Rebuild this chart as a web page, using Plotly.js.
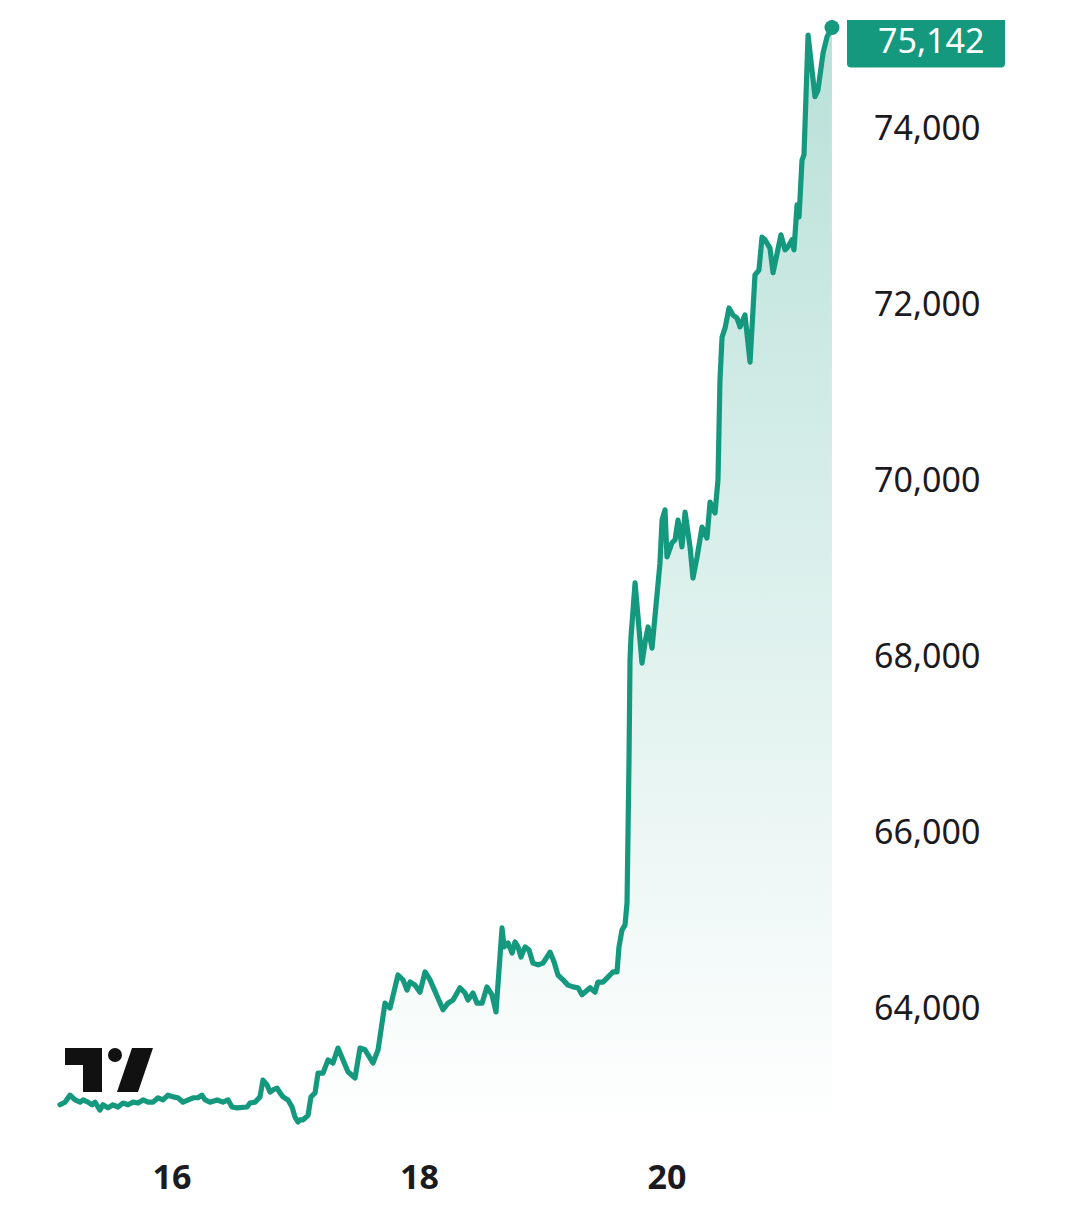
<!DOCTYPE html>
<html>
<head>
<meta charset="utf-8">
<script src="https://cdn.plot.ly/plotly-3.0.1.min.js"></script>
<style>
  html, body { margin: 0; padding: 0; background: #ffffff; }
  #chart { width: 1080px; height: 1225px; }
  .scatterlayer .js-line { stroke-linejoin: round !important; stroke-linecap: round !important; }
</style>
</head>
<body>
<div id="chart"></div>
<script>
// ---- Data (day of month, price) ----
const days = [
  15.095, 15.135, 15.176, 15.216, 15.257, 15.281, 15.321, 15.354, 15.378, 15.418,
  15.442, 15.483, 15.523, 15.564, 15.604, 15.644, 15.685, 15.725, 15.766, 15.806,
  15.847, 15.887, 15.927, 15.968, 16.008, 16.048, 16.089, 16.129, 16.170, 16.210,
  16.242, 16.267, 16.307, 16.364, 16.412, 16.453, 16.485, 16.525, 16.566, 16.606,
  16.630, 16.671, 16.711, 16.735, 16.768, 16.792, 16.816, 16.849, 16.873, 16.897,
  16.937, 16.970, 16.994, 17.018, 17.034, 17.059, 17.075, 17.099, 17.123, 17.156,
  17.180, 17.220, 17.261, 17.301, 17.341, 17.382, 17.422, 17.479, 17.519, 17.560,
  17.600, 17.624, 17.665, 17.697, 17.721, 17.762, 17.802, 17.826, 17.867, 17.899,
  17.923, 17.964, 18.004, 18.045, 18.085, 18.125, 18.166, 18.190, 18.230, 18.271,
  18.327, 18.368, 18.392, 18.432, 18.465, 18.505, 18.545, 18.586, 18.618, 18.642,
  18.667, 18.683, 18.715, 18.748, 18.772, 18.796, 18.820, 18.853, 18.885, 18.917,
  18.958, 18.998, 19.055, 19.087, 19.119, 19.160, 19.200, 19.241, 19.281, 19.313,
  19.354, 19.378, 19.418, 19.442, 19.483, 19.523, 19.564, 19.596, 19.612, 19.636,
  19.661, 19.677, 19.685, 19.693, 19.701, 19.709, 19.742, 19.766, 19.798, 19.822,
  19.847, 19.879, 19.903, 19.943, 19.960, 19.984, 20.000, 20.040, 20.065, 20.089,
  20.121, 20.146, 20.186, 20.210, 20.243, 20.283, 20.323, 20.348, 20.388, 20.412,
  20.428, 20.445, 20.469, 20.501, 20.533, 20.566, 20.590, 20.630, 20.671, 20.695,
  20.711, 20.743, 20.768, 20.792, 20.832, 20.857, 20.890, 20.921, 20.954, 20.978,
  21.010, 21.026, 21.051, 21.067, 21.091, 21.107, 21.140, 21.196, 21.220, 21.261,
  21.293, 21.333
];
const prices = [
  62900, 62930, 63010, 62955, 62930, 62955, 62930, 62900, 62930, 62840,
  62900, 62865, 62900, 62875, 62920, 62900, 62930, 62920, 62955, 62930,
  62930, 62980, 62955, 63010, 62990, 62980, 62930, 62955, 62980, 62980,
  63010, 62955, 62930, 62955, 62930, 62955, 62875, 62865, 62875, 62875,
  62920, 62930, 62990, 63180, 63125, 63045, 63070, 63090, 63035, 62990,
  62955, 62875, 62760, 62705, 62730, 62730, 62750, 62780, 62990, 63035,
  63260, 63260, 63410, 63375, 63545, 63410, 63275, 63205, 63545, 63525,
  63430, 63375, 63525, 63785, 64055, 64000, 64205, 64375, 64320, 64205,
  64295, 64260, 64180, 64410, 64320, 64180, 64035, 63980, 64055, 64090,
  64230, 64170, 64090, 64170, 64055, 64055, 64240, 64150, 63955, 64355,
  64910, 64695, 64740, 64625, 64750, 64695, 64580, 64695, 64660, 64510,
  64490, 64510, 64635, 64525, 64375, 64320, 64260, 64240, 64230, 64150,
  64205, 64230, 64180, 64295, 64295, 64355, 64410, 64410, 64695, 64885,
  64945, 65195, 65795, 66820, 67955, 68215, 68830, 68490, 67920, 68150,
  68330, 68090, 68410, 69055, 69545, 69660, 69125, 69285, 69320, 69545,
  69240, 69635, 69240, 68885, 69125, 69465, 69340, 69750, 69625, 70000,
  71135, 71625, 71725, 71955, 71875, 71840, 71740, 71875, 71340, 71820,
  72330, 72385, 72760, 72730, 72635, 72355, 72615, 72785, 72615, 72650,
  72730, 72615, 73125, 72990, 73635, 73695, 75055, 74355, 74430, 74850,
  75035, 75142
];
const yTickValues = [64000, 66000, 68000, 70000, 72000, 74000];
const yTickLabels = ['64,000', '66,000', '68,000', '70,000', '72,000', '74,000'];
const xTickValues = [16, 18, 20];
const xTickLabels = ['16', '18', '20'];

// ---- Styling ----
const GREEN = '#14997e';
const TEXT = '#1b1b1f';
const FONT = 'Noto Sans, Open Sans, sans-serif';
const X_RANGE = [15.0545, 21.4384];
const Y_RANGE = [62557, 75227];

const lastX = days[days.length - 1];
const lastY = prices[prices.length - 1];
const lastLabel = lastY.toLocaleString('en-US');

const lineTrace = {
  x: days,
  y: prices,
  type: 'scatter',
  mode: 'lines',
  line: { color: GREEN, width: 5.2, shape: 'linear' },
  fill: 'tozeroy',
  fillgradient: {
    type: 'vertical',
    start: Y_RANGE[0],
    stop: lastY,
    colorscale: [[0, 'rgba(20,153,126,0)'], [1, 'rgba(20,153,126,0.30)']]
  },
  hoverinfo: 'skip',
  showlegend: false
};

const lastPointTrace = {
  x: [lastX],
  y: [lastY],
  type: 'scatter',
  mode: 'markers',
  marker: { color: GREEN, size: 15 },
  hoverinfo: 'skip',
  showlegend: false
};

// TradingView-style logo (paper coordinates)
const logoShapes = [
  {
    type: 'path', xref: 'paper', yref: 'paper', layer: 'above',
    path: 'M 0.01266 0.07803 L 0.05949 0.07803 L 0.05949 0.03857 L 0.03544 0.03857 L 0.03544 0.06278 L 0.01266 0.06278 Z',
    fillcolor: '#111111', line: { width: 0 }
  },
  {
    type: 'circle', xref: 'paper', yref: 'paper', layer: 'above',
    x0: 0.06709, x1: 0.08481, y0: 0.06547, y1: 0.07803,
    fillcolor: '#111111', line: { width: 0 }
  },
  {
    type: 'path', xref: 'paper', yref: 'paper', layer: 'above',
    path: 'M 0.09747 0.07803 L 0.12405 0.07803 L 0.10506 0.03857 L 0.07848 0.03857 Z',
    fillcolor: '#111111', line: { width: 0 }
  }
];

// Last-value box (rounded), anchored to the last price
const lastBox = {
  type: 'path', layer: 'above',
  xref: 'paper', xsizemode: 'pixel', xanchor: 1,
  yref: 'y', ysizemode: 'pixel', yanchor: lastY,
  path: 'M 6 12 L 156 12 Q 160 12 160 8 L 160 -36 Q 160 -40 156 -40 L 6 -40 Q 2 -40 2 -36 L 2 8 Q 2 12 6 12 Z',
  fillcolor: GREEN, line: { width: 0 }
};

const layout = {
  width: 1080,
  height: 1225,
  margin: { l: 55, r: 235, t: 20, b: 90 },
  paper_bgcolor: '#ffffff',
  plot_bgcolor: '#ffffff',
  font: { family: FONT, color: TEXT, size: 34 },
  showlegend: false,
  xaxis: {
    range: X_RANGE,
    tickmode: 'array',
    tickvals: xTickValues,
    ticktext: xTickLabels,
    showgrid: false,
    zeroline: false,
    showline: false,
    ticks: '',
    ticklabelstandoff: 19,
    tickfont: { family: FONT, size: 34, color: TEXT, weight: 'bold' },
    fixedrange: true
  },
  yaxis: {
    range: Y_RANGE,
    side: 'right',
    tickmode: 'array',
    tickvals: yTickValues,
    ticktext: yTickLabels,
    showgrid: false,
    zeroline: false,
    showline: false,
    ticks: '',
    ticklabelstandoff: 28,
    tickfont: { family: FONT, size: 34, color: TEXT },
    fixedrange: true
  },
  shapes: logoShapes.concat([lastBox]),
  annotations: [
    {
      xref: 'paper', x: 1, xanchor: 'left', xshift: 31,
      yref: 'y', y: lastY, yanchor: 'middle', yshift: -13,
      text: lastLabel,
      showarrow: false,
      font: { family: FONT, size: 34, color: '#ffffff' }
    }
  ]
};

Plotly.newPlot('chart', [lineTrace, lastPointTrace], layout, { staticPlot: true, displayModeBar: false });
</script>
</body>
</html>
